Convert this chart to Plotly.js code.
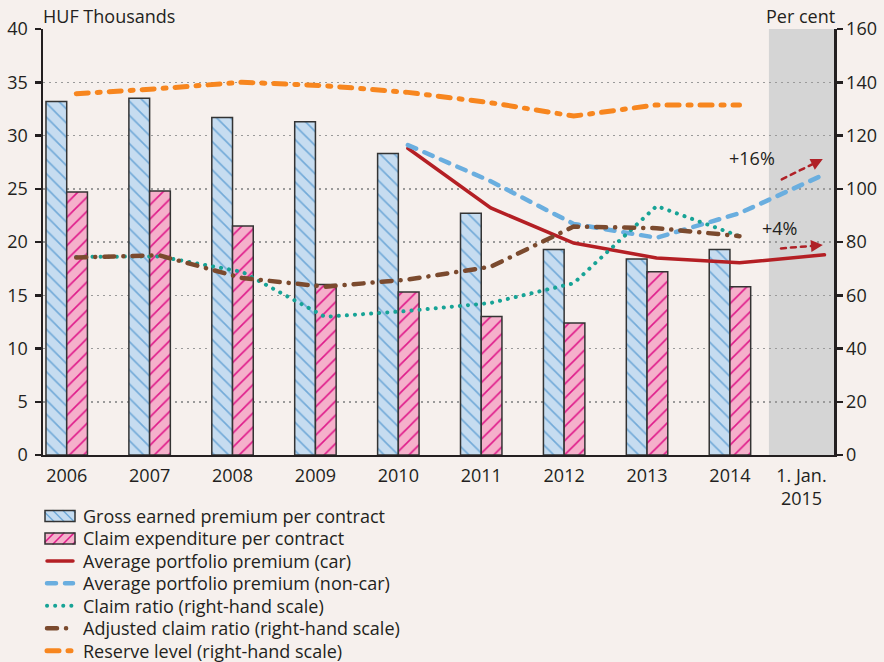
<!DOCTYPE html>
<html>
<head>
<meta charset="utf-8">
<script src="https://cdn.plot.ly/plotly-3.0.1.min.js"></script>
<style>
  html, body { margin: 0; padding: 0; background: #f6f0ed; }
  #chart { width: 884px; height: 662px; }
  .scatterlayer .js-line { stroke-linecap: round; }
  .shapelayer path { stroke-linecap: round; }
</style>
</head>
<body>
<div id="chart"></div>
<script>
// ---- data ----
const categories = ['2006', '2007', '2008', '2009', '2010', '2011', '2012', '2013', '2014', '1. Jan.<br>2015'];
const grossPremium = [33.2, 33.5, 31.7, 31.3, 28.3, 22.7, 19.3, 18.4, 19.3];
const claimExpenditure = [24.7, 24.8, 21.5, 16.0, 15.3, 13.0, 12.4, 17.2, 15.8];
const carPremium = [null, null, null, null, 28.8, 23.2, 19.9, 18.5, 18.05, 18.8];
const nonCarPremium = [null, null, null, null, 29.1, 25.7, 21.7, 20.4, 22.7, 26.35];
const claimRatio = [74.4, 74.6, 68.8, 51.9, 54.1, 57.1, 64.5, 93.5, 82.2];
const adjustedClaimRatio = [74.2, 75.0, 66.5, 63.2, 65.9, 70.7, 85.8, 85.2, 82.2];
const reserveLevel = [135.7, 137.6, 140.0, 138.7, 136.2, 132.3, 127.3, 131.5, 131.5];
const seriesNames = [
  'Gross earned premium per contract',
  'Claim expenditure per contract',
  'Average portfolio premium (car)',
  'Average portfolio premium (non-car)',
  'Claim ratio (right-hand scale)',
  'Adjusted claim ratio (right-hand scale)',
  'Reserve level (right-hand scale)'
];
const changeLabels = ['+16%', '+4%'];

// ---- geometry helpers (layout only) ----
const W = 884, H = 662;
const M = { l: 43, r: 50, t: 29, b: 207 };
const PW = W - M.l - M.r, PH = H - M.t - M.b;
const px2paperX = px => (px - M.l) / PW;
const px2paperY = py => (H - M.b - py) / PH;

const X_MIN = -0.286, X_MAX = 9.255;
const BAND_START = 8.47;
const LINE_SHIFT = 0.115;      // line points sit slightly right of bar-group centres
const FORECAST_X = 9.14;       // position of the 1 Jan 2015 line point
const nYears = grossPremium.length;
const barX = grossPremium.map((_, i) => i);

function linePoints(vals) {
  const xs = [], ys = [];
  vals.forEach((v, i) => {
    if (v === null || v === undefined) return;
    xs.push(i < nYears ? i + LINE_SHIFT : FORECAST_X);
    ys.push(v);
  });
  return { x: xs, y: ys };
}
const tickVals = categories.map((c, i) => i < nYears ? i : (BAND_START + X_MAX) / 2);

const txt = '#231f20';
const FONT = '"Open Sans", Lato, sans-serif';
const FS = 18;

const styles = {
  gross: { fill: '#c6dcf0', hatch: '#72aad8', shape: '\\' },
  claim: { fill: '#f5b0cb', hatch: '#df1a8a', shape: '/' },
  car:    { color: '#b41f24', width: 3.5 },
  noncar: { color: '#6aaedf', width: 4.5, dash: '9px,9px' },
  cr:     { color: '#17a396', width: 4, dash: '0.1px,8px' },
  acr:    { color: '#7b4a2e', width: 4.5, dash: '10px,9px,0.1px,9px' },
  rl:     { color: '#f7861f', width: 5, dash: '12px,9px,3px,9px' }
};

const car = linePoints(carPremium);
const nonCar = linePoints(nonCarPremium);
const cr = linePoints(claimRatio);
const acr = linePoints(adjustedClaimRatio);
const rl = linePoints(reserveLevel);

const traces = [
  {
    type: 'bar', name: seriesNames[0], x: barX, y: grossPremium, width: 0.25, offset: -0.25,
    marker: { color: styles.gross.fill, line: { color: '#333333', width: 1.5 },
      pattern: { shape: styles.gross.shape, fgcolor: styles.gross.hatch, bgcolor: styles.gross.fill, size: 10, solidity: 0.16 } },
    yaxis: 'y'
  },
  {
    type: 'bar', name: seriesNames[1], x: barX, y: claimExpenditure, width: 0.25, offset: 0,
    marker: { color: styles.claim.fill, line: { color: '#333333', width: 1.5 },
      pattern: { shape: styles.claim.shape, fgcolor: styles.claim.hatch, bgcolor: styles.claim.fill, size: 10, solidity: 0.16 } },
    yaxis: 'y'
  },
  { type: 'scatter', mode: 'lines', name: seriesNames[2], x: car.x, y: car.y, yaxis: 'y', line: styles.car },
  { type: 'scatter', mode: 'lines', name: seriesNames[3], x: nonCar.x, y: nonCar.y, yaxis: 'y', line: styles.noncar },
  { type: 'scatter', mode: 'lines', name: seriesNames[4], x: cr.x, y: cr.y, yaxis: 'y2', line: styles.cr },
  { type: 'scatter', mode: 'lines', name: seriesNames[5], x: acr.x, y: acr.y, yaxis: 'y2', line: styles.acr },
  { type: 'scatter', mode: 'lines', name: seriesNames[6], x: rl.x, y: rl.y, yaxis: 'y2', line: styles.rl }
];
traces.forEach(t => { t.showlegend = false; t.hoverinfo = 'skip'; });

const shapes = [
  { type: 'rect', xref: 'x', yref: 'paper', x0: BAND_START, x1: X_MAX, y0: 0, y1: 1,
    fillcolor: '#d5d5d5', line: { width: 0 }, layer: 'between' }
];
const annotations = [
  { xref: 'paper', yref: 'paper', x: px2paperX(41), y: px2paperY(16), xanchor: 'left', yanchor: 'middle',
    text: 'HUF Thousands', showarrow: false, font: { family: FONT, size: FS, color: txt } },
  { xref: 'paper', yref: 'paper', x: px2paperX(837), y: px2paperY(16), xanchor: 'right', yanchor: 'middle',
    text: 'Per cent', showarrow: false, font: { family: FONT, size: FS, color: txt } },
  { xref: 'x', yref: 'y', x: 8.26, y: 27.85, text: changeLabels[0], showarrow: false,
    font: { family: FONT, size: FS, color: txt } },
  { xref: 'x', yref: 'y', x: 8.6, y: 21.3, text: changeLabels[1], showarrow: false,
    font: { family: FONT, size: FS, color: txt } }
];

// dashed growth arrows
const arrowColor = '#b02127';
const arrows = [
  { x0: 8.625, y0: 25.88, x1: 9.12, y1: 27.79 },
  { x0: 8.615, y0: 19.40, x1: 9.12, y1: 19.71 }
];
arrows.forEach(a => {
  const fx = 0.8;
  const mx = a.x0 + (a.x1 - a.x0) * fx, my = a.y0 + (a.y1 - a.y0) * fx;
  shapes.push({ type: 'line', xref: 'x', yref: 'y', x0: a.x0, y0: a.y0, x1: mx, y1: my,
    line: { color: arrowColor, width: 2.5, dash: '5px,5px' }, layer: 'above' });
  annotations.push({ xref: 'x', yref: 'y', axref: 'x', ayref: 'y', x: a.x1, y: a.y1,
    ax: mx, ay: my, showarrow: true, arrowhead: 2, arrowsize: 0.95, arrowwidth: 2.5,
    arrowcolor: arrowColor, text: '' });
});

// ---- legend (drawn below the plot) ----
const LEG = { symX0: 45, symX1: 75, textX: 81, y0: 516, dy: 22.45, boxH: 11 };
function clipSeg(x0, y0, x1, y1, bx0, bx1) {
  const t0 = Math.max(0, (bx0 - x0) / (x1 - x0)), t1 = Math.min(1, (bx1 - x0) / (x1 - x0));
  if (t1 <= t0) return null;
  return [x0 + (x1 - x0) * t0, y0 + (y1 - y0) * t0, x0 + (x1 - x0) * t1, y0 + (y1 - y0) * t1];
}
function legendBox(cy, st) {
  const top = cy - LEG.boxH / 2, bot = cy + LEG.boxH / 2;
  shapes.push({ type: 'rect', xref: 'paper', yref: 'paper',
    x0: px2paperX(LEG.symX0), x1: px2paperX(LEG.symX1), y0: px2paperY(bot), y1: px2paperY(top),
    fillcolor: st.fill, line: { width: 0 }, layer: 'above' });
  for (let k = -12; k < 32; k += 10) {
    let seg;
    if (st.shape === '\\') seg = clipSeg(LEG.symX0 + k, top, LEG.symX0 + k + LEG.boxH, bot, LEG.symX0, LEG.symX1);
    else seg = clipSeg(LEG.symX0 + k, bot, LEG.symX0 + k + LEG.boxH, top, LEG.symX0, LEG.symX1);
    if (!seg) continue;
    shapes.push({ type: 'line', xref: 'paper', yref: 'paper',
      x0: px2paperX(seg[0]), y0: px2paperY(seg[1]), x1: px2paperX(seg[2]), y1: px2paperY(seg[3]),
      line: { color: st.hatch, width: 1.5 }, layer: 'above' });
  }
  shapes.push({ type: 'rect', xref: 'paper', yref: 'paper',
    x0: px2paperX(LEG.symX0), x1: px2paperX(LEG.symX1), y0: px2paperY(bot), y1: px2paperY(top),
    fillcolor: 'rgba(0,0,0,0)', line: { color: '#333333', width: 1.5 }, layer: 'above' });
}
function legendLine(cy, st) {
  shapes.push({ type: 'line', xref: 'paper', yref: 'paper',
    x0: px2paperX(LEG.symX0 + 2), x1: px2paperX(LEG.symX1 - 2), y0: px2paperY(cy), y1: px2paperY(cy),
    line: { color: st.color, width: st.width, dash: st.dash || 'solid' }, layer: 'above' });
}
const legendStyles = [styles.gross, styles.claim, styles.car, styles.noncar, styles.cr, styles.acr, styles.rl];
seriesNames.forEach((name, i) => {
  const cy = LEG.y0 + i * LEG.dy;
  if (i < 2) legendBox(cy, legendStyles[i]); else legendLine(cy, legendStyles[i]);
  annotations.push({ xref: 'paper', yref: 'paper', x: px2paperX(LEG.textX), y: px2paperY(cy),
    xanchor: 'left', yanchor: 'middle', text: name, showarrow: false,
    font: { family: FONT, size: FS, color: txt } });
});

const layout = {
  width: W, height: H,
  margin: { l: M.l, r: M.r, t: M.t, b: M.b, pad: 0, autoexpand: false },
  paper_bgcolor: '#f6f0ed', plot_bgcolor: '#f6f0ed',
  font: { family: FONT, size: FS, color: txt },
  barmode: 'overlay',
  showlegend: false,
  xaxis: {
    range: [X_MIN, X_MAX], tickmode: 'array', tickvals: tickVals, ticktext: categories,
    showgrid: false, zeroline: false, showline: true, linecolor: txt, linewidth: 2,
    ticks: '', tickfont: { family: FONT, size: FS, color: txt }, ticklabelstandoff: 3
  },
  yaxis: {
    range: [0, 40], dtick: 5, showline: true, linecolor: txt, linewidth: 2.5,
    ticks: 'outside', ticklen: 6, tickwidth: 2.5, tickcolor: txt,
    showgrid: true, gridcolor: '#9a9a9a', gridwidth: 1.5, griddash: '2px,4px',
    zeroline: false, tickfont: { family: FONT, size: FS, color: txt }, ticklabelstandoff: 3
  },
  yaxis2: {
    range: [0, 160], dtick: 20, overlaying: 'y', side: 'right',
    showline: true, linecolor: txt, linewidth: 2.5,
    ticks: 'outside', ticklen: 6, tickwidth: 2.5, tickcolor: txt,
    showgrid: false, zeroline: false, tickfont: { family: FONT, size: FS, color: txt }
  },
  shapes: shapes,
  annotations: annotations
};

Plotly.newPlot('chart', traces, layout, { staticPlot: true, displayModeBar: false });
</script>
</body>
</html>
